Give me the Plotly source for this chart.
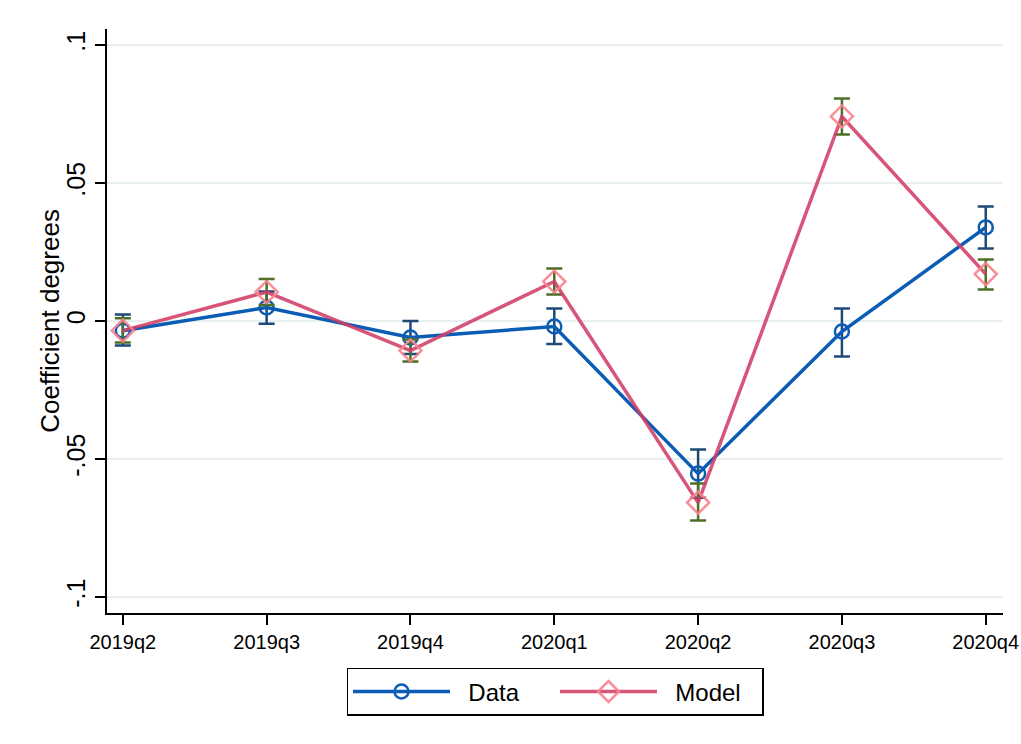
import plotly.graph_objects as go

quarters = ["2019q2", "2019q3", "2019q4", "2020q1", "2020q2", "2020q3", "2020q4"]

data_coef = [-0.0035, 0.0049, -0.0060, -0.0020, -0.0553, -0.0038, 0.0339]
data_hi = [0.0024, 0.0107, 0.0000, 0.0045, -0.0466, 0.0045, 0.0415]
data_lo = [-0.0089, -0.0010, -0.0120, -0.0083, -0.0640, -0.0129, 0.0263]

model_coef = [-0.0035, 0.0105, -0.0107, 0.0143, -0.0658, 0.0741, 0.0170]
model_hi = [0.0010, 0.0152, -0.0067, 0.0190, -0.0589, 0.0806, 0.0223]
model_lo = [-0.0078, 0.0058, -0.0147, 0.0096, -0.0723, 0.0676, 0.0114]

ytick_vals = [-0.1, -0.05, 0, 0.05, 0.1]
ytick_text = ["-.1", "-.05", "0", ".05", ".1"]

fig = go.Figure()

fig.add_trace(go.Scatter(
    x=quarters, y=data_coef, name="\u00a0\u00a0Data", mode="lines+markers",
    line=dict(color="#0b5cb5", width=3.5),
    marker=dict(symbol="circle-open", size=14, color="#0b5cb5", line=dict(width=2.5)),
    error_y=dict(type="data", symmetric=False,
                 array=[h - c for h, c in zip(data_hi, data_coef)],
                 arrayminus=[c - l for l, c in zip(data_lo, data_coef)],
                 color="#1e4a78", thickness=2.5, width=8),
))

fig.add_trace(go.Scatter(
    x=quarters, y=model_coef, name="\u00a0\u00a0Model", mode="lines+markers",
    line=dict(color="rgba(208,62,102,0.88)", width=3.5),
    marker=dict(symbol="diamond-open", size=17, color="rgba(250,130,140,0.9)", line=dict(width=2.5)),
    error_y=dict(type="data", symmetric=False,
                 array=[h - c for h, c in zip(model_hi, model_coef)],
                 arrayminus=[c - l for l, c in zip(model_lo, model_coef)],
                 color="#4d7027", thickness=2.5, width=8),
))

fig.update_layout(
    width=1021, height=744,
    margin=dict(l=107, r=18, t=29, b=131, autoexpand=False),
    paper_bgcolor="white", plot_bgcolor="white",
    font=dict(family="Liberation Sans, Arial, sans-serif", color="black"),
    showlegend=True,
    legend=dict(orientation="h", x=0.5, xanchor="center", y=-0.094, yanchor="top",
                bordercolor="black", borderwidth=1.5, font=dict(size=24),
                itemwidth=97, entrywidth=95, entrywidthmode="pixels",
                traceorder="normal"),
    annotations=[dict(text="Coefficient degrees", textangle=-90, xref="paper", yref="paper",
                      x=-0.064, y=0.5, xanchor="center", yanchor="middle",
                      showarrow=False, font=dict(size=26))],
)

fig.update_xaxes(
    type="category", range=[-0.11, 6.12], automargin=False,
    showline=True, linecolor="black", linewidth=1.5,
    ticks="outside", ticklen=10, tickwidth=1.5, tickcolor="black",
    showgrid=False, zeroline=False,
    tickfont=dict(size=20),
)

fig.update_yaxes(
    range=[-0.1058, 0.1058], automargin=False,
    tickvals=ytick_vals, ticktext=ytick_text, tickangle=-90,
    showline=True, linecolor="black", linewidth=1.5,
    ticks="outside", ticklen=10, tickwidth=1.5, tickcolor="black",
    showgrid=True, gridcolor="#e8f0f2", gridwidth=1.5, zeroline=False,
    tickfont=dict(size=25),
)

fig.write_html(
    "out.html",
    config={"displayModeBar": False},
    post_script="document.body.style.margin='0';document.body.style.overflow='hidden';",
)
